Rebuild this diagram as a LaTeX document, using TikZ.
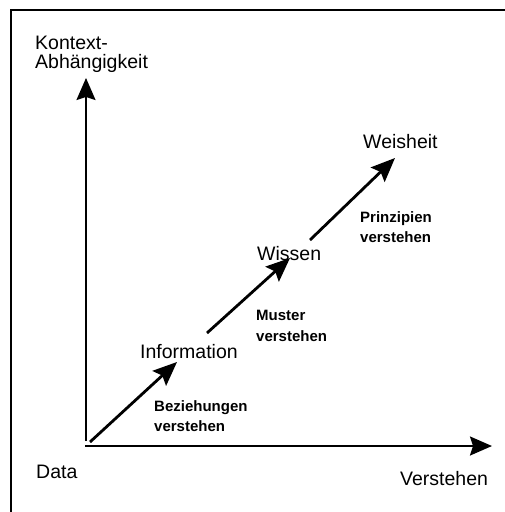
\documentclass[tikz,border=0pt]{standalone}
\usepackage{fontspec}
\setmainfont{Liberation Sans}
\usetikzlibrary{arrows.meta}
\begin{document}
\begin{tikzpicture}[x=1pt,y=-1pt,
  biglabel/.style={anchor=base west,inner sep=0pt,font=\fontsize{19.5}{22}\selectfont},
  smalllabel/.style={anchor=north west,inner sep=0pt,align=left,font=\fontsize{15}{20.5}\selectfont\bfseries},
  axisline/.style={line width=2pt,-{Stealth[length=22pt,width=19pt,inset=3pt]}},
  steparrow/.style={line width=2.8pt,-{Stealth[length=24pt,width=20pt,inset=4pt]}},
  frameline/.style={line width=2pt}]
\useasboundingbox (0,0) rectangle (505,512);
% frame (top and left edges visible)
\draw[frameline] (11,520) -- (11,10) -- (520,10);
% axes
\coordinate (yb) at (86,441);
\coordinate (yt) at (86,78);
\coordinate (xl) at (85,446);
\coordinate (xr) at (492,446);
\draw[axisline] (yb) -- (yt);
\draw[axisline] (xl) -- (xr);
% labels
\node[anchor=north west,inner sep=0pt,align=left,font=\fontsize{19.5}{18.5}\selectfont] (ylab) at (35,36) {Kontext-\\Abhängigkeit};
\node[biglabel] (data) at (36,478) {Data};
\node[biglabel] (verst) at (400,485) {Verstehen};
\node[biglabel] (info) at (140,358) {Information};
\node[biglabel] (wissen) at (257,260) {Wissen};
\node[biglabel] (weis) at (363,148) {Weisheit};
\node[smalllabel] (bez) at (154,400) {Beziehungen\\verstehen};
\node[smalllabel] (must) at (256,310) {Muster\\verstehen};
\node[smalllabel] (prin) at (360,211) {Prinzipien\\verstehen};
% step arrows
\coordinate (a1s) at (90,442);
\coordinate (a1e) at (177,362);
\coordinate (a2s) at (207,333);
\coordinate (a2e) at (290,258);
\coordinate (a3s) at (310,240);
\coordinate (a3e) at (395,158);
\draw[steparrow] (a1s) -- (a1e);
\draw[steparrow] (a2s) -- (a2e);
\draw[steparrow] (a3s) -- (a3e);
\end{tikzpicture}
\end{document}
